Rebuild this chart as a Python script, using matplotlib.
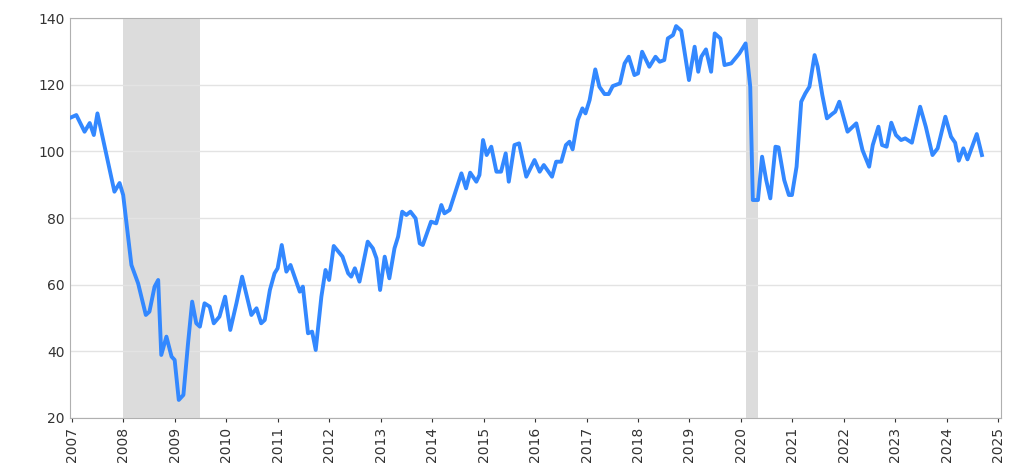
import matplotlib
matplotlib.use("Agg")
import matplotlib.pyplot as plt

t = [2006.96,2007.09,2007.25,2007.35,2007.43,2007.5,2007.83,2007.93,2008.0,2008.16,2008.29,2008.44,2008.51,2008.61,2008.68,2008.74,2008.84,2008.94,2009.0,2009.08,2009.17,2009.26,2009.34,2009.42,2009.49,2009.58,2009.68,2009.76,2009.87,2009.98,2010.08,2010.2,2010.31,2010.49,2010.59,2010.68,2010.75,2010.85,2010.94,2011.0,2011.08,2011.17,2011.25,2011.43,2011.49,2011.59,2011.67,2011.74,2011.85,2011.93,2012.0,2012.09,2012.26,2012.37,2012.43,2012.5,2012.59,2012.75,2012.85,2012.92,2012.99,2013.08,2013.17,2013.27,2013.34,2013.42,2013.5,2013.58,2013.68,2013.76,2013.82,2013.98,2014.08,2014.18,2014.24,2014.34,2014.57,2014.66,2014.74,2014.86,2014.92,2014.99,2015.06,2015.15,2015.25,2015.34,2015.43,2015.49,2015.6,2015.69,2015.83,2015.99,2016.09,2016.17,2016.33,2016.41,2016.51,2016.6,2016.67,2016.73,2016.83,2016.92,2016.98,2017.06,2017.17,2017.25,2017.35,2017.43,2017.51,2017.65,2017.74,2017.82,2017.93,2018.0,2018.08,2018.22,2018.34,2018.42,2018.51,2018.58,2018.68,2018.74,2018.84,2018.99,2019.1,2019.17,2019.23,2019.32,2019.42,2019.49,2019.6,2019.68,2019.81,2019.97,2020.09,2020.18,2020.23,2020.33,2020.41,2020.49,2020.57,2020.67,2020.73,2020.84,2020.93,2020.99,2021.08,2021.17,2021.25,2021.33,2021.43,2021.49,2021.58,2021.67,2021.77,2021.83,2021.91,2022.07,2022.24,2022.36,2022.49,2022.56,2022.67,2022.74,2022.83,2022.92,2023.01,2023.11,2023.19,2023.32,2023.48,2023.59,2023.72,2023.82,2023.97,2024.08,2024.16,2024.23,2024.32,2024.4,2024.58,2024.68]
v = [110,110.9,105.9,108.5,104.9,111.4,87.9,90.5,86.9,65.9,60.4,50.9,51.9,59.4,61.4,38.9,44.4,38.4,37.4,25.4,26.9,42.4,54.9,48.4,47.4,54.4,53.4,48.4,50.4,56.4,46.4,54.4,62.4,50.9,52.9,48.4,49.4,58.4,63.4,64.9,71.9,63.9,65.9,57.9,59.4,45.4,45.9,40.4,56.4,64.4,61.4,71.6,68.4,63.4,62.4,64.9,60.9,72.9,70.9,67.9,58.4,68.4,61.9,70.9,74.4,81.9,80.9,81.9,79.9,72.4,71.9,78.9,78.4,83.9,81.4,82.4,93.4,88.9,93.6,90.9,92.9,103.4,98.9,101.4,93.9,93.9,99.4,90.9,101.9,102.4,92.4,97.4,93.9,95.9,92.4,96.9,96.9,101.9,102.9,100.6,109.4,112.9,111.4,115.4,124.6,119.4,117.2,117.2,119.6,120.4,126.4,128.4,122.9,123.4,129.9,125.4,128.4,126.9,127.4,133.9,134.9,137.6,136.2,121.4,131.4,123.9,128.4,130.6,123.9,135.4,133.9,125.9,126.4,129.4,132.4,119.4,85.4,85.4,98.4,91.4,85.9,101.4,101.2,91.4,86.9,86.9,95.4,114.9,117.4,119.4,128.9,125.4,116.9,109.9,111.2,111.9,114.9,105.9,108.4,100.4,95.4,101.9,107.4,101.9,101.4,108.6,104.9,103.4,103.9,102.6,113.4,107.4,98.9,100.9,110.4,104.4,102.6,97.2,100.9,97.6,105.2,98.9]
recessions = [(2008.0, 2009.5), (2020.1, 2020.33)]
years = list(range(2007, 2026))

fig = plt.figure(figsize=(10.24, 4.76), dpi=100)
ax = fig.add_axes([0.068, 0.122, 0.91, 0.84])
for a, b in recessions:
    ax.axvspan(a, b, color="#dcdcdc", lw=0, zorder=0)
ax.plot(t, v, color="#3388ff", lw=2.8, zorder=3)
ax.set_xlim(2006.96, 2025.06)
ax.set_ylim(20, 140)
ax.set_yticks(range(20, 141, 20))
ax.set_xticks(years)
ax.set_xticklabels([str(y) for y in years], rotation=90)
ax.grid(axis="y", color="#e3e3e3", lw=1)
ax.set_axisbelow(True)
for s in ax.spines.values():
    s.set_color("#b0b0b0")
ax.tick_params(labelsize=10, colors="#333333", length=3)
ax.tick_params(axis="y", length=0)
fig.savefig("out.png", dpi=100)
